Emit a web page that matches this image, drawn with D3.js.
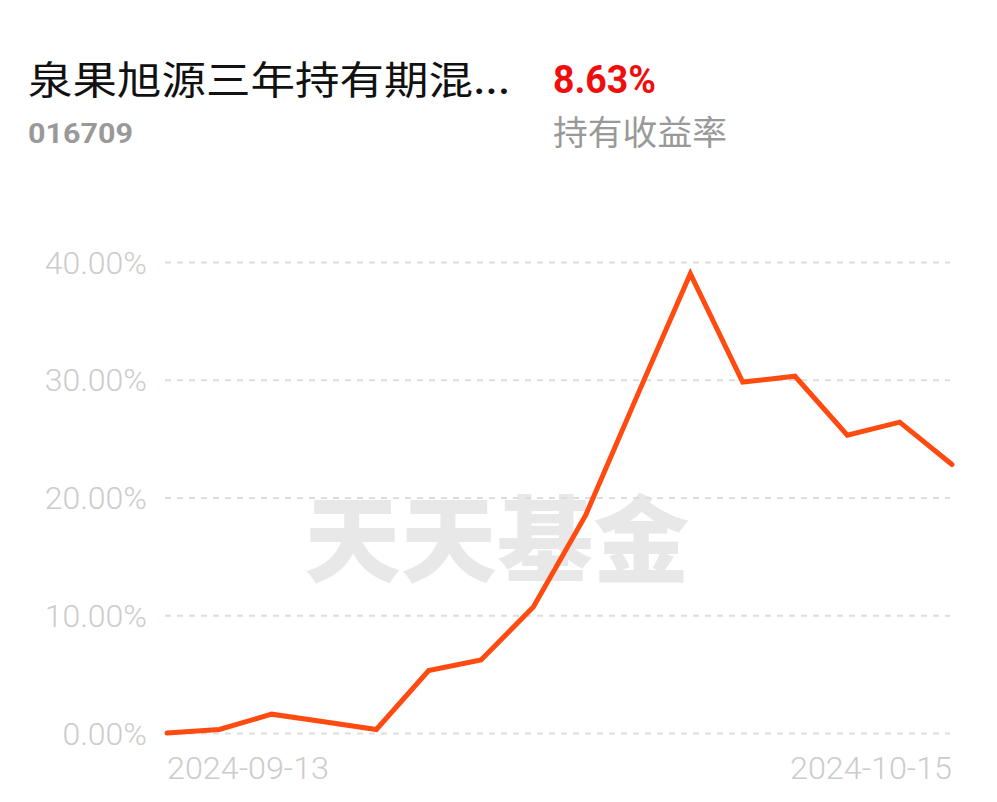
<!DOCTYPE html>
<html><head><meta charset="utf-8">
<script src="https://cdn.jsdelivr.net/npm/d3@7"></script>
<style>
html,body{margin:0;padding:0;background:#fff;}
svg{display:block;}
</style></head>
<body>
<svg id="c" width="997" height="802"></svg>
<script>
const titleText = "泉果旭源三年持有期混...";
const codeText = "016709";
const returnText = "8.63%";
const returnLabel = "持有收益率";
const watermark = "天天基金";
const dates = ["2024-09-13","2024-09-18","2024-09-19","2024-09-20","2024-09-23","2024-09-24","2024-09-25","2024-09-26","2024-09-27","2024-09-30","2024-10-08","2024-10-09","2024-10-10","2024-10-11","2024-10-14","2024-10-15"];
const values = [0.0, 0.3, 1.6, 0.95, 0.3, 5.3, 6.2, 10.7, 18.5, 28.8, 39.0, 29.8, 30.3, 25.3, 26.4, 22.8];
const yTicks = [0, 10, 20, 30, 40];
const xTickLabels = ["2024-09-13", "2024-10-15"];

const svg = d3.select("#c");
const font = "'Noto Sans CJK SC', 'Noto Sans', sans-serif";
const latin = "Roboto, 'Noto Sans', sans-serif";

// header
svg.append("text").attr("x", 28).attr("y", 94).attr("font-family", font)
  .attr("font-size", 39).attr("fill", "#111")
  .attr("textLength", 482).attr("lengthAdjust", "spacingAndGlyphs").text(titleText);
svg.append("text").attr("x", 28).attr("y", 143).attr("font-family", latin)
  .attr("font-size", 27).attr("font-weight", "bold").attr("fill", "#999")
  .attr("textLength", 105).attr("lengthAdjust", "spacingAndGlyphs").text(codeText);
svg.append("text").attr("x", 553).attr("y", 93).attr("font-family", latin)
  .attr("font-size", 38).attr("font-weight", "bold").attr("fill", "#f00d0d")
  .attr("textLength", 103).attr("lengthAdjust", "spacingAndGlyphs").text(returnText);
svg.append("text").attr("x", 553).attr("y", 145).attr("font-family", font)
  .attr("font-size", 34).attr("fill", "#999")
  .attr("textLength", 174).attr("lengthAdjust", "spacingAndGlyphs").text(returnLabel);

const x = d3.scalePoint().domain(dates).range([167, 952]);
const y = d3.scaleLinear().domain([0, 40]).range([733, 262]);

// watermark
svg.append("text").attr("x", 497).attr("y", 575).attr("text-anchor", "middle")
  .attr("font-family", font).attr("font-weight", "900").attr("font-size", 94)
  .attr("fill", "#e8e8e8").attr("textLength", 385).attr("lengthAdjust", "spacingAndGlyphs")
  .text(watermark);

// grid
const yAxis = d3.axisLeft(y).tickValues(yTicks).tickSize(-(950 - 165))
  .tickFormat(d => d3.format(".2f")(d) + "%").tickPadding(18);
const gy = svg.append("g").attr("transform", "translate(165,0)").call(yAxis);
gy.select(".domain").remove();
gy.selectAll(".tick line").attr("stroke", "#dddddd").attr("stroke-width", 2).attr("stroke-dasharray", "6,6");
gy.selectAll(".tick text").attr("font-family", latin).attr("font-weight", 300)
  .attr("font-size", 32).attr("fill", "#cccccc").attr("dy", "0.35em");

// x labels
svg.append("g").selectAll("text").data(xTickLabels).join("text")
  .attr("x", d => x(d))
  .attr("y", 779)
  .attr("text-anchor", (d, i) => i === 0 ? "start" : "end")
  .attr("font-family", latin).attr("font-weight", 300)
  .attr("font-size", 32).attr("fill", "#cccccc")
  .attr("textLength", 162).attr("lengthAdjust", "spacingAndGlyphs").text(d => d);

// line
const line = d3.line().x((d, i) => x(dates[i])).y(d => y(d));
svg.append("path").datum(values).attr("d", line).attr("fill", "none")
  .attr("stroke", "#ff4a10").attr("stroke-width", 5)
  .attr("stroke-linejoin", "miter").attr("stroke-linecap", "round");
</script>
</body></html>
